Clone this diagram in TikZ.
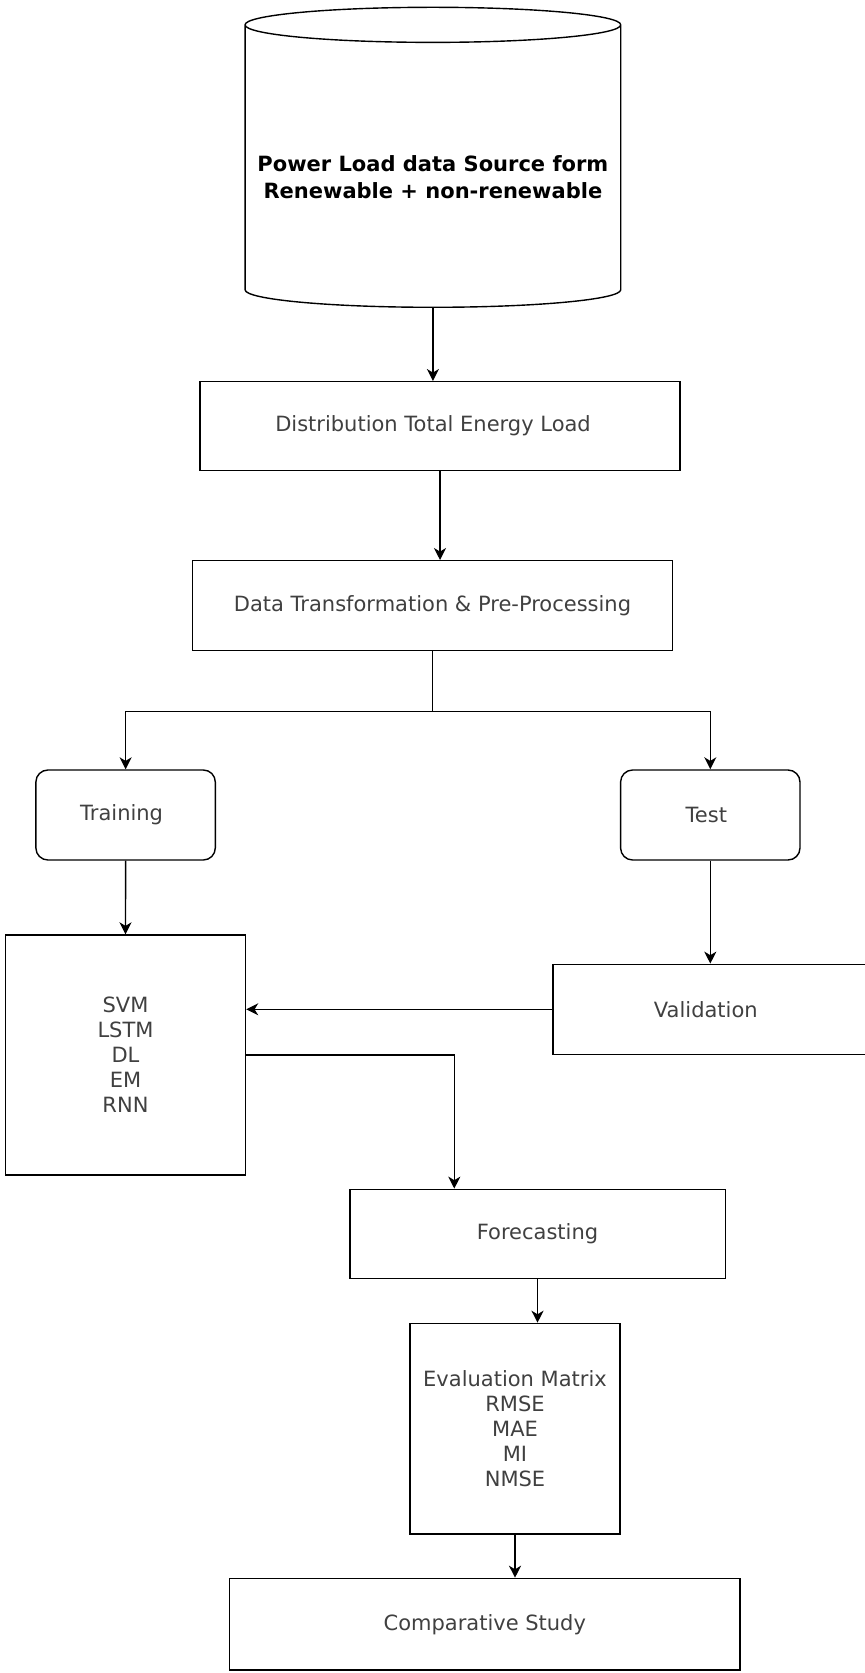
\documentclass[tikz,border=0pt]{standalone}
\usepackage{fontspec}
\setmainfont{DejaVu Sans}
\usetikzlibrary{arrows.meta,shapes.geometric}
\tikzset{
	box/.style={draw,line width=0.7pt,text=black!75,align=center,inner sep=0pt,font=\fontsize{10.5pt}{12.5pt}\selectfont},
	rbox/.style={box,rounded corners=6pt},
	db/.style={cylinder,shape border rotate=90,aspect=0.1,draw,line width=0.7pt,inner sep=0pt,align=center,font=\bfseries\fontsize{10.5pt}{13.5pt}\selectfont},
	arr/.style={-{Stealth[length=6pt,width=6pt,inset=1.8pt]},line width=0.7pt},
	link/.style={line width=0.7pt}
}
\begin{document}
\begin{tikzpicture}[x=0.5pt,y=-0.5pt]
	\useasboundingbox (0,0) rectangle (865,1673);
	\node[db,minimum width=187.85pt,minimum height=150pt,anchor=south] (src) at (432.9,308) {\rule{0pt}{18.6pt}Power Load data Source form\\Renewable + non-renewable};
	\node[box,minimum width=240pt,minimum height=44.5pt] (dist) at (440,426.2) {Distribution Total Energy Load\hspace{7pt}};
	\node[box,minimum width=240.2pt,minimum height=45pt] (data) at (432.5,605.7) {Data Transformation \& Pre-Processing};
	\node[rbox,minimum width=89.7pt,minimum height=45pt] (train) at (125.6,815) {Training\hspace{4pt}};
	\node[rbox,minimum width=89.7pt,minimum height=45pt] (test) at (710.3,815) {Test\hspace{4pt}};
	\node[box,minimum width=120pt,minimum height=120pt] (models) at (125.5,1055) {SVM\\LSTM\\DL\\EM\\RNN};
	\node[box,minimum width=160pt,minimum height=45pt] (valid) at (712.8,1009.3) {Validation\hspace{7pt}};
	\node[box,minimum width=187.7pt,minimum height=44.5pt] (fore) at (537.5,1233.8) {Forecasting};
	\node[box,minimum width=105pt,minimum height=105.3pt] (eval) at (515,1428.7) {Evaluation Matrix\\RMSE\\MAE\\MI\\NMSE};
	\node[box,minimum width=255.2pt,minimum height=45.8pt] (comp) at (484.8,1624.2) {Comparative Study};

	\path (fore.north west) ++(105.2,0) coordinate (forein);

	\draw[arr] (src.south) -- (src.south |- dist.north);
	\draw[arr] (dist.south) -- (dist.south |- data.north);
	\draw[link] (data.south) -- ++(0,60) coordinate (split);
	\draw[arr] (split) -| (train.north);
	\draw[arr] (split) -| (test.north);
	\draw[arr] (train.south) -- (models.north);
	\draw[arr] (test.south) -- (test.south |- valid.north);
	\draw[arr] (valid.west) -- (valid.west -| models.east);
	\draw[arr] (models.east) -| (forein);
	\draw[arr] (fore.south) -- (fore.south |- eval.north);
	\draw[arr] (eval.south) -- (eval.south |- comp.north);
\end{tikzpicture}
\end{document}
